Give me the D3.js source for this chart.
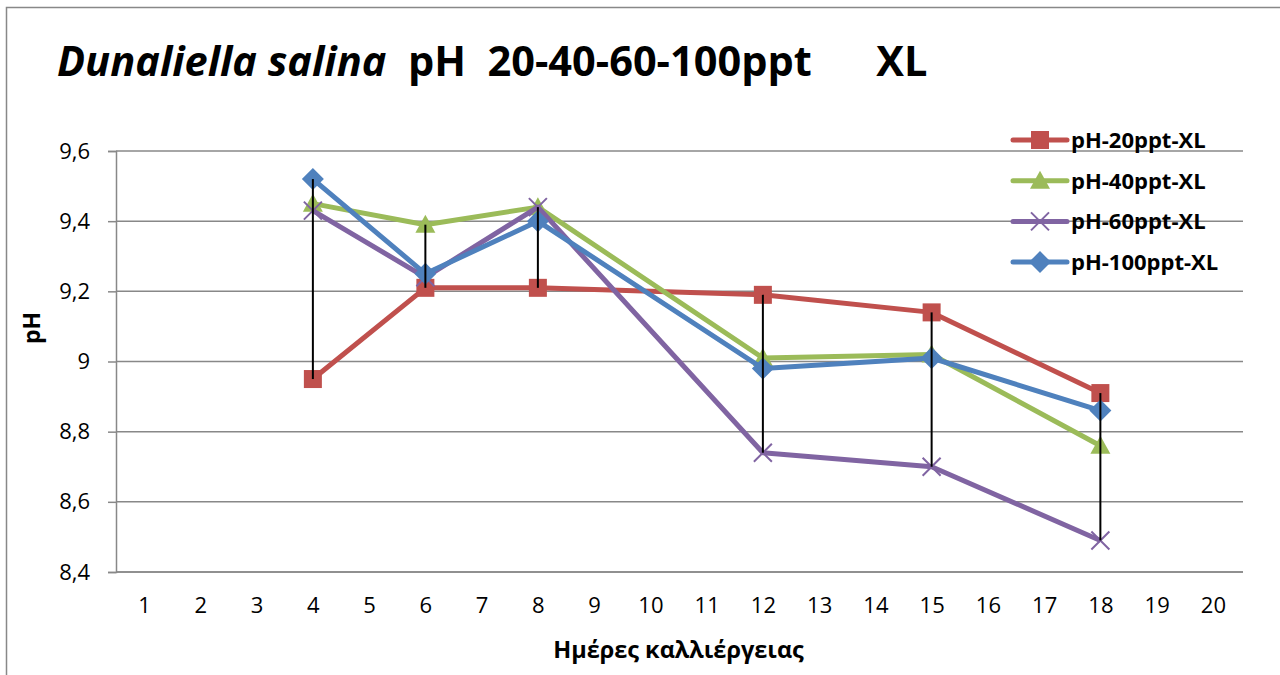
<!DOCTYPE html>
<html>
<head>
<meta charset="utf-8">
<script src="https://cdn.jsdelivr.net/npm/d3@7"></script>
<style>
  html, body { margin: 0; padding: 0; background: #fff; }
  svg { display: block; }
  text { font-family: "Open Sans", "Noto Sans", sans-serif; fill: #000; }
</style>
</head>
<body>
<svg id="chart" width="1280" height="675"></svg>
<script>
// Culture days on the category axis
const days = d3.range(1, 21);
// Sampling days with measurements
const sampleDays = [4, 6, 8, 12, 15, 18];
// pH readings per salinity
const ph20 = [8.95, 9.21, 9.21, 9.19, 9.14, 8.91];
const ph40 = [9.45, 9.39, 9.44, 9.01, 9.02, 8.76];
const ph60 = [9.43, 9.24, 9.44, 8.74, 8.70, 8.49];
const ph100 = [9.52, 9.25, 9.40, 8.98, 9.01, 8.86];
const yTicks = [8.4, 8.6, 8.8, 9.0, 9.2, 9.4, 9.6];
const seriesNames = ["pH-20ppt-XL", "pH-40ppt-XL", "pH-60ppt-XL", "pH-100ppt-XL"];

const series = [
  { name: seriesNames[0], values: ph20, color: "#C0504D", marker: "square" },
  { name: seriesNames[1], values: ph40, color: "#9BBB59", marker: "triangle" },
  { name: seriesNames[2], values: ph60, color: "#8064A2", marker: "x" },
  { name: seriesNames[3], values: ph100, color: "#4F81BD", marker: "diamond" }
];

const svg = d3.select("#chart");
const plot = { left: 116, right: 1241, top: 151, bottom: 572 };
const grey = "#888888";

const x = d3.scalePoint().domain(days).range([plot.left, plot.right]).padding(0.5);
const y = d3.scaleLinear().domain([8.4, 9.6]).range([plot.bottom, plot.top]);

// Outer chart frame
svg.append("rect")
  .attr("x", 6.5).attr("y", 7.5).attr("width", 1300).attr("height", 700)
  .attr("fill", "none").attr("stroke", grey).attr("stroke-width", 1.5);

// Title
const title = svg.append("text")
  .attr("x", 57).attr("y", 76)
  .style("font-size", "41.5px").style("font-weight", "700");
title.append("tspan").style("font-style", "italic").text("Dunaliella salina");
title.append("tspan").text("\u00a0\u00a0pH\u00a0\u00a020-40-60-100ppt\u00a0\u00a0\u00a0\u00a0\u00a0\u00a0XL");

// Horizontal gridlines
svg.append("g").selectAll("line").data(yTicks).join("line")
  .attr("x1", plot.left).attr("x2", plot.right + 2)
  .attr("y1", d => y(d)).attr("y2", d => y(d))
  .attr("stroke", grey).attr("stroke-width", 1.5);

// Y axis
const yAxis = svg.append("g")
  .attr("transform", `translate(${plot.left},0)`)
  .call(d3.axisLeft(y).tickValues(yTicks).tickSize(8).tickPadding(18)
    .tickFormat(d => d3.format(".1f")(d).replace(".0", "").replace(".", ",")));
yAxis.select(".domain").attr("stroke", grey).attr("stroke-width", 1.5);
yAxis.selectAll(".tick line").attr("stroke", grey).attr("stroke-width", 1.5);
yAxis.selectAll(".tick text").style("font-size", "22px").attr("fill", "#000")
  .style("font-family", "'Open Sans', sans-serif");

// X axis
const xAxis = svg.append("g")
  .attr("transform", `translate(0,${plot.bottom})`)
  .call(d3.axisBottom(x).tickSize(0).tickPadding(25));
xAxis.select(".domain").attr("stroke", grey).attr("stroke-width", 1.5)
  .attr("d", `M${plot.left},0H${plot.right + 2}`);
xAxis.selectAll(".tick text").style("font-size", "22px").attr("fill", "#000")
  .style("font-family", "'Open Sans', sans-serif");

// Axis titles
svg.append("text")
  .attr("x", (plot.left + plot.right) / 2).attr("y", 658)
  .attr("text-anchor", "middle")
  .style("font-size", "23.5px").style("font-weight", "700")
  .text("Ημέρες καλλιέργειας");
svg.append("text")
  .attr("transform", "translate(40,328) rotate(-90)")
  .attr("text-anchor", "middle")
  .style("font-size", "23px").style("font-weight", "700")
  .text("pH");

// Marker shapes
function drawMarker(g, type, color) {
  if (type === "square") {
    g.append("rect").attr("x", -9).attr("y", -9).attr("width", 18).attr("height", 18).attr("fill", color);
  } else if (type === "triangle") {
    g.append("path").attr("d", "M0,-10L10,8L-10,8Z").attr("fill", color);
  } else if (type === "diamond") {
    g.append("path").attr("d", "M0,-11L11,0L0,11L-11,0Z").attr("fill", color);
  } else if (type === "x") {
    g.append("path").attr("d", "M-9,-9L9,9M-9,9L9,-9")
      .attr("stroke", color).attr("stroke-width", 2).attr("fill", "none");
  }
}

// Series lines and markers
const line = d3.line().x(d => x(d.day)).y(d => y(d.v));
series.forEach(s => {
  const pts = sampleDays.map((day, i) => ({ day, v: s.values[i] }));
  const g = svg.append("g");
  g.append("path").datum(pts)
    .attr("d", line).attr("fill", "none")
    .attr("stroke", s.color).attr("stroke-width", 5).attr("stroke-linejoin", "round");
  pts.forEach(p => {
    drawMarker(g.append("g").attr("transform", `translate(${x(p.day)},${y(p.v)})`), s.marker, s.color);
  });
});

// High-low lines
svg.append("g").selectAll("line").data(sampleDays).join("line")
  .attr("x1", d => x(d)).attr("x2", d => x(d))
  .attr("y1", (d, i) => y(d3.max(series, s => s.values[i])))
  .attr("y2", (d, i) => y(d3.min(series, s => s.values[i])))
  .attr("stroke", "#000").attr("stroke-width", 2);

// Legend
const legend = svg.append("g");
series.forEach((s, i) => {
  const ly = 140 + i * 40.7;
  const g = legend.append("g").attr("transform", `translate(0,${ly})`);
  g.append("line").attr("x1", 1013).attr("x2", 1067).attr("y1", 0).attr("y2", 0)
    .attr("stroke", s.color).attr("stroke-width", 5).attr("stroke-linecap", "round");
  drawMarker(g.append("g").attr("transform", "translate(1040,0)"), s.marker, s.color);
  g.append("text").attr("x", 1071).attr("y", 8)
    .style("font-size", "22px").style("font-weight", "700")
    .text(s.name);
});
</script>
</body>
</html>
